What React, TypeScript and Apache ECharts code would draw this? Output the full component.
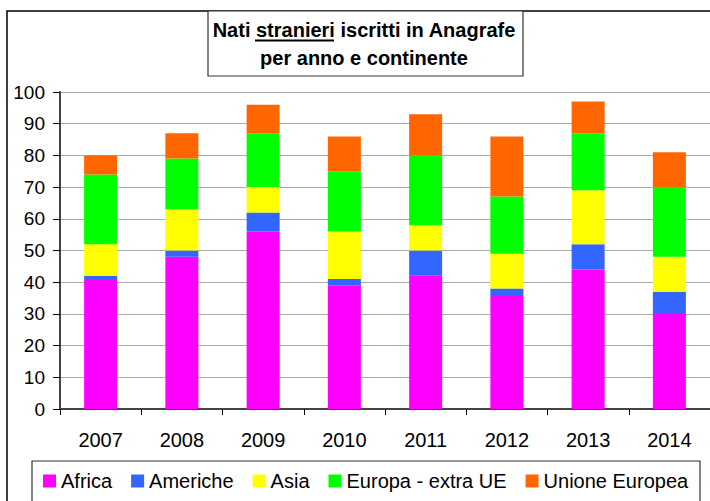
import React, { useEffect, useRef } from "react";
import * as echarts from "echarts";

const years = ["2007", "2008", "2009", "2010", "2011", "2012", "2013", "2014"];
const africa = [41, 48, 56, 39, 42, 36, 44, 30];
const americhe = [1, 2, 6, 2, 8, 2, 8, 7];
const asia = [10, 13, 8, 15, 8, 11, 17, 11];
const europaExtraUE = [22, 16, 17, 19, 22, 18, 18, 22];
const unioneEuropea = [6, 8, 9, 11, 13, 19, 10, 11];

const seriesNames = ["Africa", "Americhe", "Asia", "Europa - extra UE", "Unione Europea"];
const seriesColors = ["#FF00FF", "#3366FF", "#FFFF00", "#00FF00", "#FF6600"];
const seriesData = [africa, americhe, asia, europaExtraUE, unioneEuropea];

const titleLine1 = "Nati stranieri iscritti in Anagrafe";
const titleLine2 = "per anno e continente";

export default function App() {
  const ref = useRef<HTMLDivElement>(null);
  useEffect(() => {
    if (!ref.current) return;
    const chart = echarts.init(ref.current, undefined, { renderer: "svg" });
    const font = "'Liberation Sans', Arial, sans-serif";
    const titleStyle = {
      fontSize: 20,
      fontWeight: "bold",
      fontFamily: font,
      fill: "#000",
      textAlign: "center",
      textVerticalAlign: "middle",
    };
    chart.setOption({
      animation: false,
      backgroundColor: "#ffffff",
      textStyle: { fontFamily: font },
      grid: { left: 60, top: 92, width: 659, height: 317 },
      xAxis: {
        type: "category",
        data: years,
        axisLine: { lineStyle: { color: "#444", width: 2 } },
        axisTick: { show: true, length: 6, lineStyle: { color: "#000" } },
        axisLabel: { fontSize: 20, color: "#000", margin: 21, fontFamily: font },
      },
      yAxis: {
        type: "value",
        min: 0,
        max: 100,
        interval: 10,
        axisLine: { show: true, lineStyle: { color: "#444", width: 2 } },
        axisTick: { show: true, length: 7, lineStyle: { color: "#000" } },
        axisLabel: { fontSize: 19, color: "#000", margin: 15, fontFamily: font },
        splitLine: { lineStyle: { color: "#aaaaaa", width: 1 } },
      },
      legend: {
        left: 43,
        top: 471,
        width: 700,
        padding: 0,
        itemWidth: 13,
        itemHeight: 13,
        itemGap: 19,
        icon: "rect",
        data: seriesNames,
        textStyle: { fontSize: 20, color: "#000", fontFamily: font },
      },
      series: seriesNames.map((name, i) => ({
        name,
        type: "bar",
        stack: "total",
        barWidth: 33,
        data: seriesData[i],
        itemStyle: { color: seriesColors[i] },
      })),
      graphic: [
        {
          type: "rect",
          z: -10,
          shape: { x: 7, y: 11, width: 720, height: 520 },
          style: { fill: "none", stroke: "#000", lineWidth: 1.5 },
        },
        {
          type: "rect",
          shape: { x: 208, y: 11, width: 315, height: 65 },
          style: { fill: "#fff", stroke: "#333", lineWidth: 1.2 },
        },
        {
          type: "text",
          x: 364,
          y: 30,
          style: { ...titleStyle, text: titleLine1 },
        },
        {
          type: "line",
          shape: { x1: 255, y1: 40.5, x2: 334, y2: 40.5 },
          style: { stroke: "#000", lineWidth: 2 },
        },
        {
          type: "text",
          x: 364,
          y: 57.5,
          style: { ...titleStyle, text: titleLine2 },
        },
        {
          type: "rect",
          shape: { x: 32, y: 461, width: 668, height: 60 },
          style: { fill: "none", stroke: "#333", lineWidth: 1.2 },
        },
      ],
    });
    return () => chart.dispose();
  }, []);
  return (
    <div
      ref={ref}
      style={{ position: "fixed", left: 0, top: 0, width: 710, height: 501 }}
    />
  );
}
